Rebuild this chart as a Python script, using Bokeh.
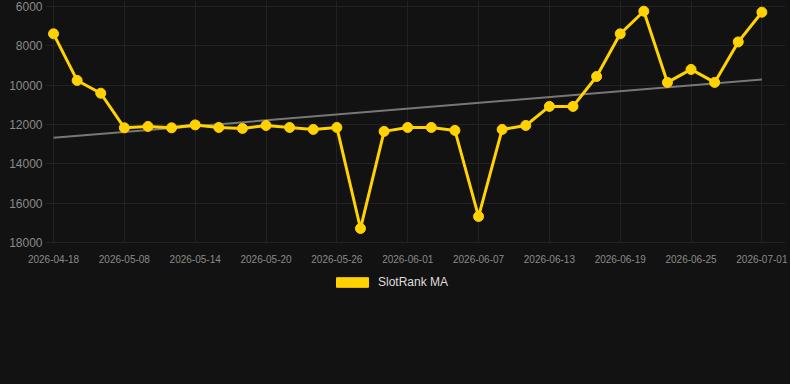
from bokeh.plotting import figure
from bokeh.layouts import column
from bokeh.models import Range1d, Legend, LegendItem, ColumnDataSource, FixedTicker
from bokeh.embed import file_html
from bokeh.resources import INLINE

dates = ["2026-04-18", "2026-04-25", "2026-05-02", "2026-05-08", "2026-05-10", "2026-05-12",
         "2026-05-14", "2026-05-16", "2026-05-18", "2026-05-20", "2026-05-22", "2026-05-24",
         "2026-05-26", "2026-05-28", "2026-05-30", "2026-06-01", "2026-06-03", "2026-06-05",
         "2026-06-07", "2026-06-09", "2026-06-11", "2026-06-13", "2026-06-15", "2026-06-17",
         "2026-06-19", "2026-06-21", "2026-06-23", "2026-06-25", "2026-06-27", "2026-06-29",
         "2026-07-01"]
slotrank_ma = [7390, 9760, 10410, 12170, 12100, 12170, 12020, 12150, 12200, 12050, 12150, 12250,
               12150, 17290, 12350, 12150, 12150, 12300, 16680, 12250, 12050, 11080, 11080, 9560,
               7390, 6240, 9860, 9200, 9860, 7800, 6290]
trend_start = 12680
trend_end = 9710
y_ticks = [6000, 8000, 10000, 12000, 14000, 16000, 18000]
series_name = "SlotRank MA"

idx = list(range(len(dates)))
label_idx = idx[::3]

BG = "#121212"
GRID = "#222222"
YELLOW = "#FFD200"

p = figure(frame_width=740, frame_height=243, output_backend="svg", toolbar_location=None,
           x_range=Range1d(-0.34, 31.0), y_range=Range1d(18051, 5695),
           min_border_left=45, min_border_right=5, min_border_top=0, min_border_bottom=27)
p.background_fill_color = None
p.border_fill_color = None
p.outline_line_color = None
p.styles = {"background-color": BG}

src = ColumnDataSource(dict(x=idx, y=slotrank_ma))
tsrc = ColumnDataSource(dict(x=[idx[0], idx[-1]], y=[trend_start, trend_end]))

p.line("x", "y", source=tsrc, line_color="#777777", line_width=2)
p.line("x", "y", source=src, line_color=YELLOW, line_width=3)
p.scatter("x", "y", source=src, size=10, fill_color=YELLOW, line_color=YELLOW)

p.xaxis.ticker = FixedTicker(ticks=label_idx)
p.xaxis.major_label_overrides = {i: dates[i] for i in label_idx}
p.yaxis.ticker = FixedTicker(ticks=y_ticks)

for ax in (p.xaxis[0], p.yaxis[0]):
    ax.axis_line_color = None
    ax.major_tick_line_color = None
    ax.minor_tick_line_color = None
    ax.major_tick_out = 0
    ax.major_tick_in = 0
    ax.major_label_text_color = "#8a8a8a"
    ax.major_label_text_font = "Liberation Sans"
p.xaxis.major_label_text_font_size = "10px"
p.yaxis.major_label_text_font_size = "12px"
p.xaxis.major_label_standoff = 11
p.yaxis.major_label_standoff = 3

p.xgrid.ticker = FixedTicker(ticks=label_idx)
p.ygrid.ticker = FixedTicker(ticks=y_ticks)
p.grid.grid_line_color = GRID
p.grid.grid_line_width = 1

# legend strip below the chart
p2 = figure(frame_width=790, frame_height=114, output_backend="svg", toolbar_location=None,
            x_range=Range1d(0, 790), y_range=Range1d(0, 114),
            x_axis_type=None, y_axis_type=None,
            min_border_left=0, min_border_right=0, min_border_top=0, min_border_bottom=0)
p2.background_fill_color = None
p2.border_fill_color = None
p2.outline_line_color = None
p2.styles = {"background-color": BG}
p2.grid.visible = False

nan = float("nan")
legend_src = ColumnDataSource(dict(l=[nan], r=[nan], t=[nan], b=[nan]))
dummy = p2.quad(left="l", right="r", top="t", bottom="b", source=legend_src,
                fill_color=YELLOW, line_color=YELLOW)
legend = Legend(items=[LegendItem(label=series_name, renderers=[dummy])],
                orientation="horizontal", location=(332, 95),
                glyph_width=40, glyph_height=12, label_standoff=6,
                label_text_font="Liberation Sans", label_text_font_size="12px",
                label_text_color="#dddddd", background_fill_alpha=0,
                border_line_color=None, padding=0, margin=0, spacing=0)
p2.add_layout(legend, "center")

layout = column(p, p2, spacing=0, styles={"background-color": BG})

open("out.html", "w").write(file_html(layout, INLINE))
